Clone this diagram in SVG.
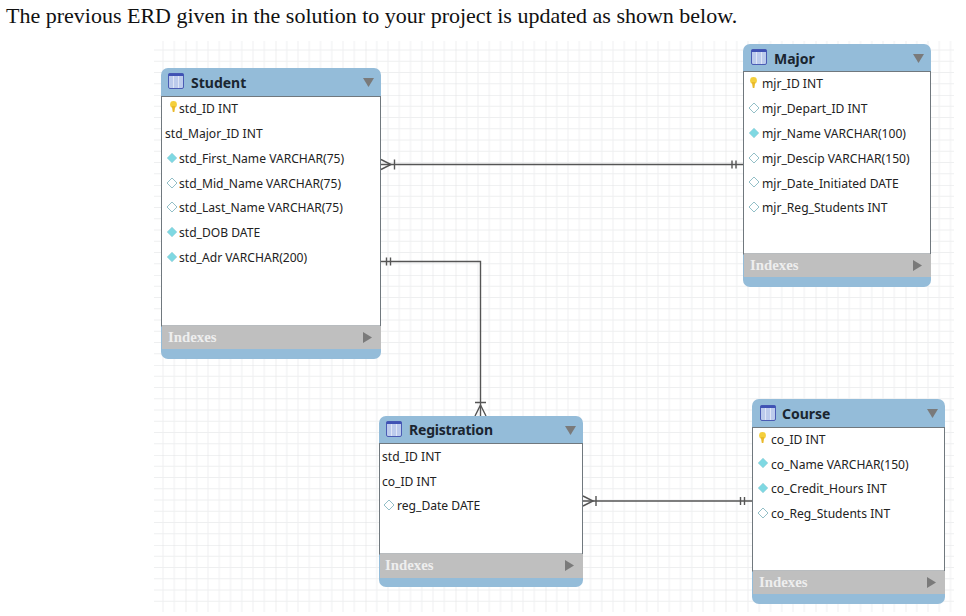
<svg xmlns="http://www.w3.org/2000/svg" width="966" height="616" viewBox="0 0 966 616">
<style>
.t{font:22px "Liberation Serif",serif;fill:#111}
.f{font:12.1px "Noto Sans",sans-serif;fill:#222}
.h{font:bold 14px "Noto Sans",sans-serif;fill:#1a2530}
.i{font:bold 14.8px "Liberation Serif",serif;fill:#eeeeee}
.b{fill:#fff;stroke:#70787e;stroke-width:1}
.hd{fill:#94bcd9}
.ix{fill:#bfbfbf}
.c{fill:none;stroke:#555;stroke-width:1.4}
.tri{fill:#7a7a7a}
</style>
<defs>
<pattern id="grid" x="95.5" y="5" width="90" height="90" patternUnits="userSpaceOnUse">
<path d="M11.25 0V90M22.5 0V90M33.75 0V90M45 0V90M56.25 0V90M67.5 0V90M78.75 0V90M0 11.25H90M0 22.5H90M0 33.75H90M0 45H90M0 56.25H90M0 67.5H90M0 78.75H90" stroke="#eeeff0" fill="none"/>
<path d="M0 0V90M0 0H90" stroke="#e2e3e5" stroke-width="1.200" fill="none"/>
</pattern>
<symbol id="tbl" width="17" height="17" overflow="visible"><rect x="0.5" y="0.5" width="15" height="15" rx="1.5" fill="#bccbec" stroke="#4a5cb4"/><rect x="0.5" y="0.5" width="15" height="2.500" fill="#3f52b4"/><path d="M5.500 3V15M10.500 3V15" stroke="#dfe6f6"/></symbol>
<symbol id="key" width="8" height="12" overflow="visible"><circle cx="3.500" cy="3.500" r="3.400" fill="#f4cf3c"/><path d="M1.800 5H5.200L4.400 11H2.800Z" fill="#e9b92a"/></symbol>
<symbol id="dn" width="11" height="11" overflow="visible"><path d="M5 0L10 5L5 10L0 5Z" fill="#7fd8e2" stroke="#b5dde3" stroke-width="0.800"/></symbol>
<symbol id="de" width="11" height="11" overflow="visible"><path d="M5 0L10 5L5 10L0 5Z" fill="#fff" stroke="#93bfc7"/></symbol>
</defs>
<rect width="966" height="616" fill="#fff"/>
<rect x="154" y="41" width="800" height="571" fill="url(#grid)"/>
<text class="t" x="6" y="23">The previous ERD given in the solution to your project is updated as shown below.</text>
<g id="connectors">
<path class="c" d="M381 164.500H743"/><path class="c" d="M381 159.500L391 164.500L381 169.500M394.500 159.500V169.500M732 160.500V168.500M736 160.500V168.500"/>
<path class="c" d="M381 261.500H480.500V416"/><path class="c" d="M386.500 257.500V265.500M390.500 257.500V265.500M475 402.500H486M475 416L480.500 405L486 416"/>
<path class="c" d="M583 501H752"/><path class="c" d="M583 496L593 501L583 506M596 496V506M740.500 497V505M744.500 497V505"/>
</g>
<g id="student">
<rect class="hd" x="161" y="68" width="220" height="291" rx="7"/><rect class="b" x="161.500" y="96.500" width="219" height="229.500"/><rect class="ix" x="162" y="326" width="219" height="23"/>
<use href="#tbl" x="168" y="73"/><text class="h" x="191" y="88">Student</text><path class="tri" d="M363 78H374L368.500 87Z"/>
<use href="#key" x="170" y="101"/><text class="f" x="179" y="113">std_ID INT</text>
<text class="f" x="165" y="138">std_Major_ID INT</text>
<use href="#dn" x="167" y="153"/><text class="f" x="179" y="163">std_First_Name VARCHAR(75)</text>
<use href="#de" x="167" y="178"/><text class="f" x="179" y="188">std_Mid_Name VARCHAR(75)</text>
<use href="#de" x="167" y="202"/><text class="f" x="179" y="212">std_Last_Name VARCHAR(75)</text>
<use href="#dn" x="167" y="227"/><text class="f" x="179" y="237">std_DOB DATE</text>
<use href="#dn" x="167" y="252"/><text class="f" x="179" y="262">std_Adr VARCHAR(200)</text>
<text class="i" x="168" y="342">Indexes</text><path class="tri" d="M363 332L372 337.500L363 343Z"/>
</g>
<g id="major">
<rect class="hd" x="743" y="44" width="188" height="243" rx="7"/><rect class="b" x="743.500" y="71.500" width="187" height="182.500"/><rect class="ix" x="744" y="254" width="187" height="23"/>
<use href="#tbl" x="751" y="49"/><text class="h" x="774" y="64">Major</text><path class="tri" d="M913 54H924L918.500 63Z"/>
<use href="#key" x="750" y="77"/><text class="f" x="762" y="88">mjr_ID INT</text>
<use href="#de" x="749" y="103"/><text class="f" x="762" y="113">mjr_Depart_ID INT</text>
<use href="#dn" x="749" y="128"/><text class="f" x="762" y="138">mjr_Name VARCHAR(100)</text>
<use href="#de" x="749" y="153"/><text class="f" x="762" y="163">mjr_Descip VARCHAR(150)</text>
<use href="#de" x="749" y="177"/><text class="f" x="762" y="188">mjr_Date_Initiated DATE</text>
<use href="#de" x="749" y="202"/><text class="f" x="762" y="212">mjr_Reg_Students INT</text>
<text class="i" x="750" y="270">Indexes</text><path class="tri" d="M913 260L922 265.500L913 271Z"/>
</g>
<g id="registration">
<rect class="hd" x="379" y="416" width="204" height="171" rx="7"/><rect class="b" x="379.500" y="443.500" width="203" height="110.500"/><rect class="ix" x="380" y="554" width="203" height="24"/>
<use href="#tbl" x="386" y="421"/><text class="h" x="409" y="435" textLength="84">Registration</text><path class="tri" d="M565 426H576L570.500 435Z"/>
<text class="f" x="382" y="461">std_ID INT</text>
<text class="f" x="382" y="486">co_ID INT</text>
<use href="#de" x="384" y="500"/><text class="f" x="397" y="510">reg_Date DATE</text>
<text class="i" x="385" y="570">Indexes</text><path class="tri" d="M565 560L574 565.500L565 571Z"/>
</g>
<g id="course">
<rect class="hd" x="752" y="399" width="193" height="205" rx="7"/><rect class="b" x="752.500" y="427.500" width="192" height="143.500"/><rect class="ix" x="753" y="571" width="192" height="23"/>
<use href="#tbl" x="760" y="405"/><text class="h" x="782" y="419">Course</text><path class="tri" d="M927 409H938L932.500 418Z"/>
<use href="#key" x="759" y="432"/><text class="f" x="771" y="444">co_ID INT</text>
<use href="#dn" x="758" y="458"/><text class="f" x="771" y="469">co_Name VARCHAR(150)</text>
<use href="#dn" x="758" y="483"/><text class="f" x="771" y="493">co_Credit_Hours INT</text>
<use href="#de" x="758" y="508"/><text class="f" x="771" y="518">co_Reg_Students INT</text>
<text class="i" x="759" y="587">Indexes</text><path class="tri" d="M927 577L936 582.500L927 588Z"/>
</g>
</svg>
